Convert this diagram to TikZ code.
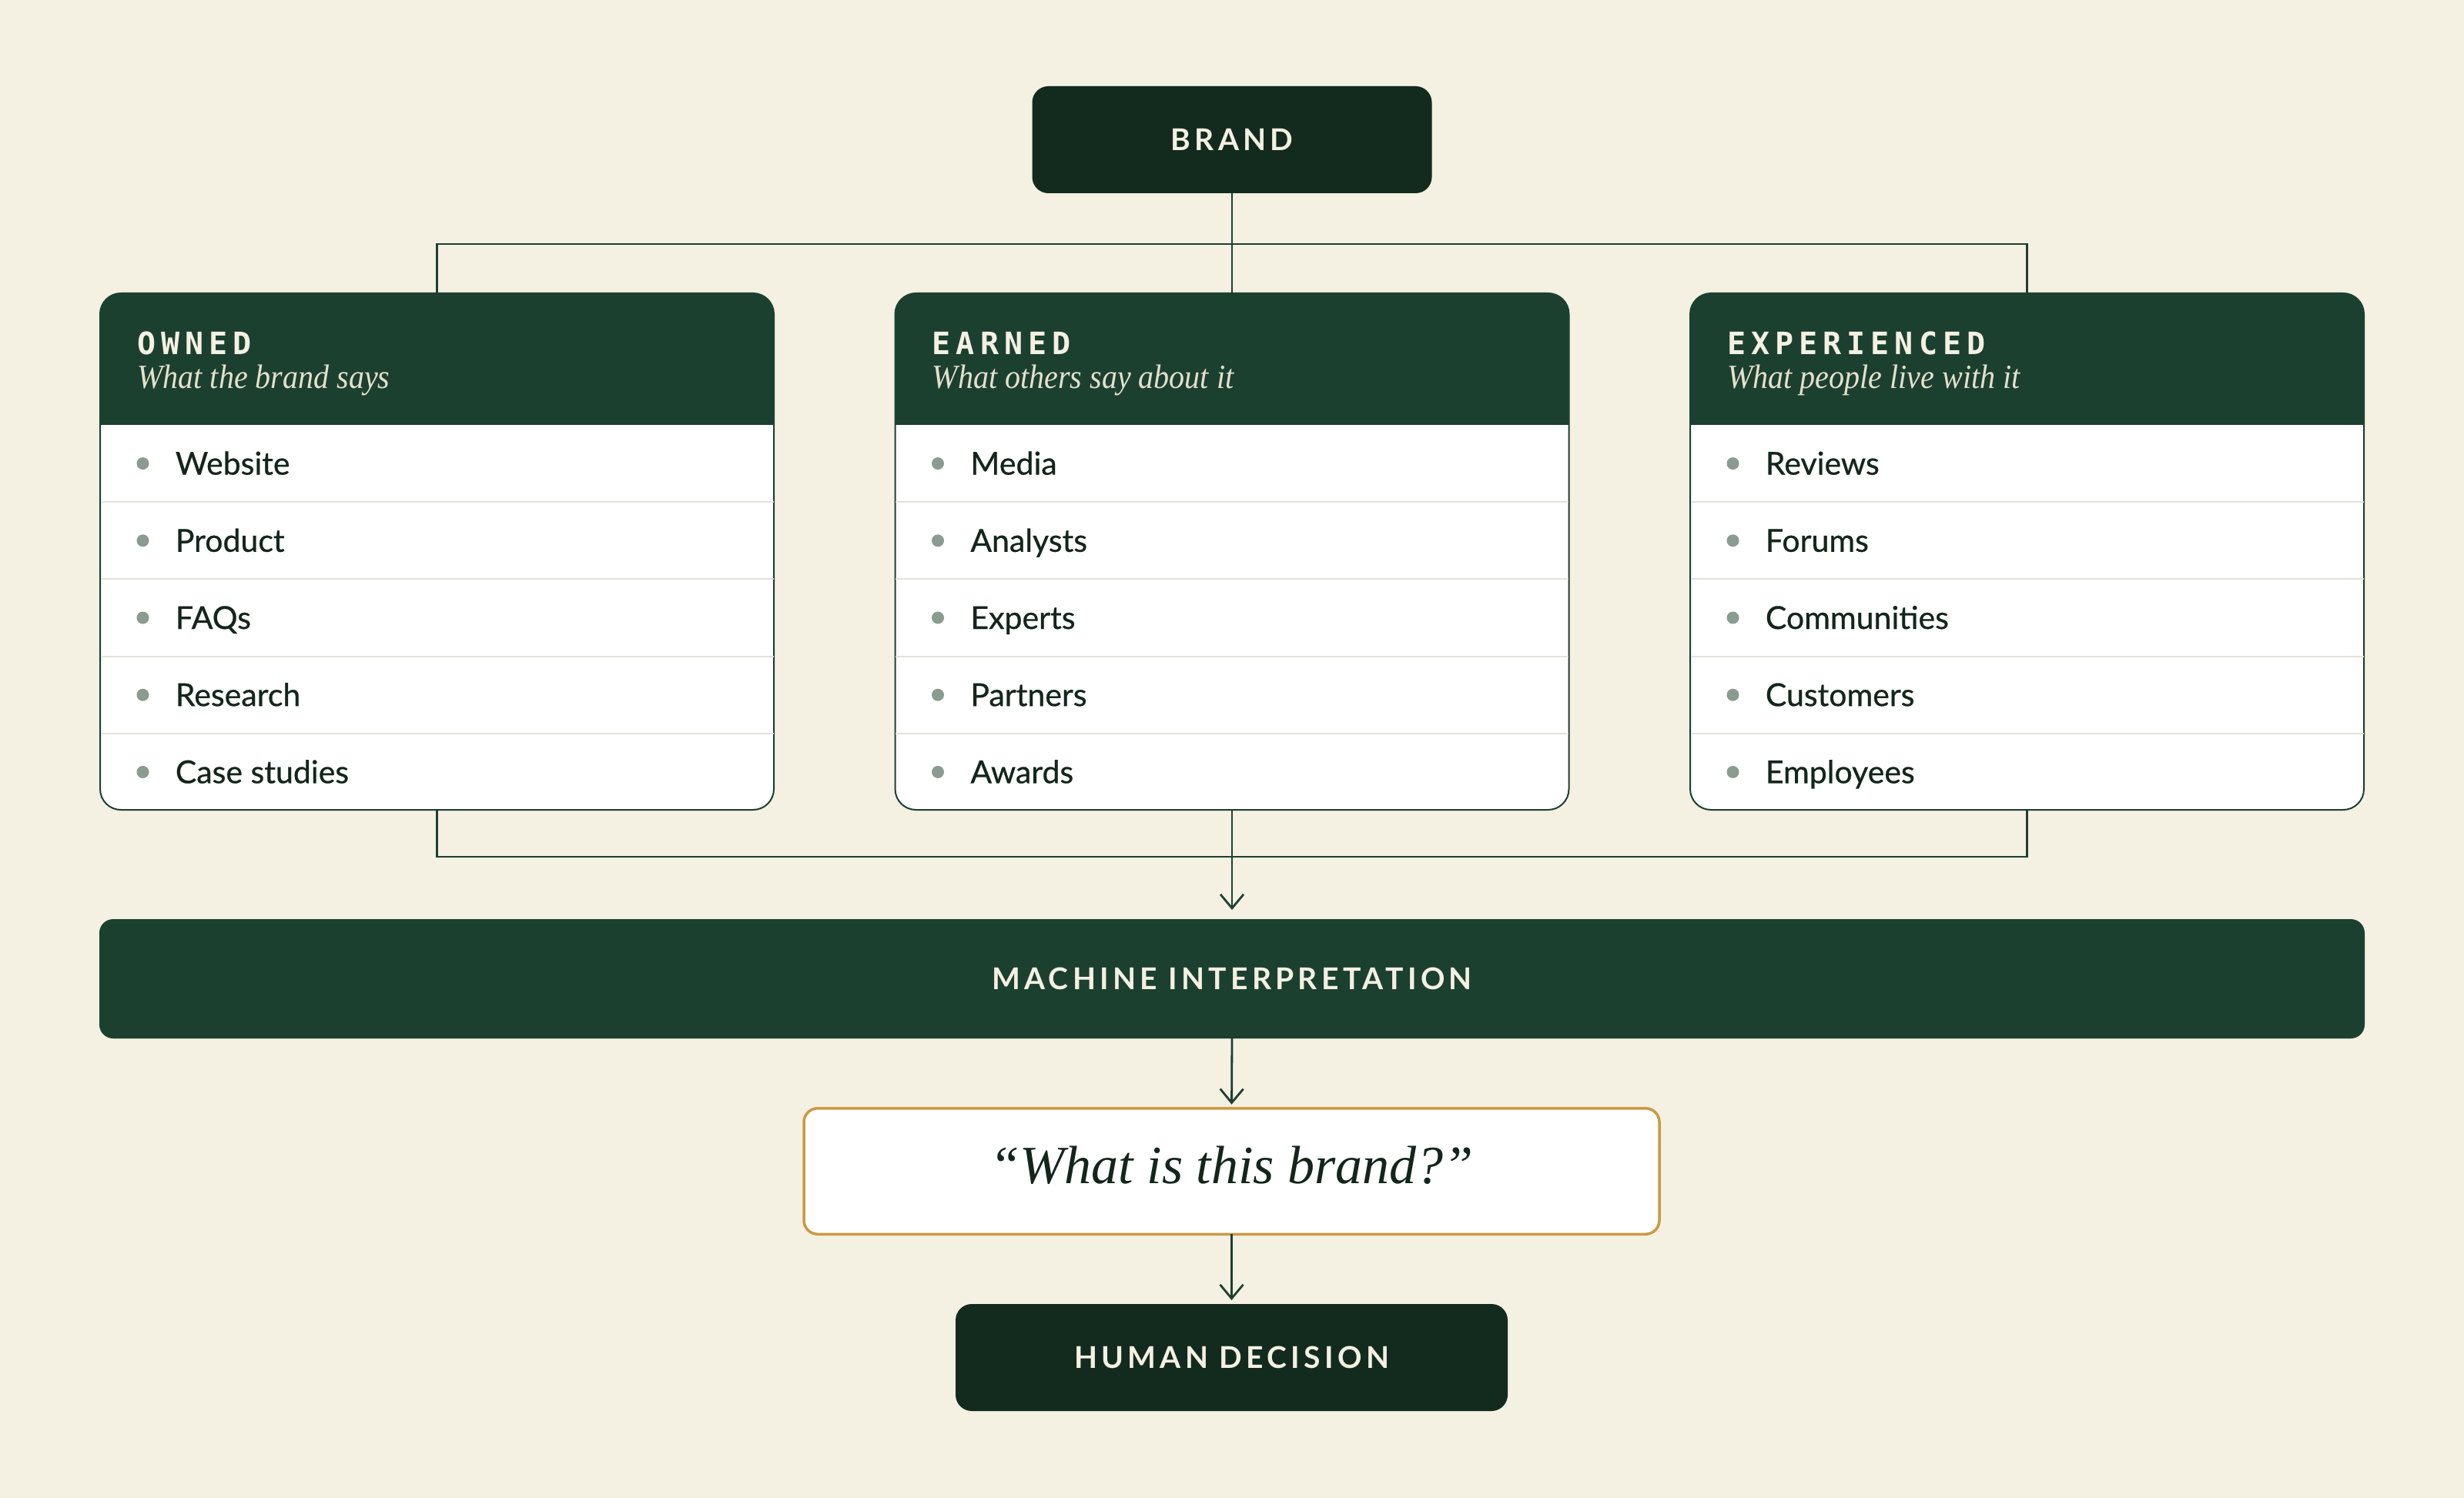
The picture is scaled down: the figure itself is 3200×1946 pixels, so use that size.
\documentclass[tikz,border=0pt]{standalone}
\usepackage{fontspec}
\setmainfont{Lato}
\newfontfamily\hdrfont{DejaVu Sans Mono}[LetterSpace=17.5]
\newfontfamily\capsfont{Lato}[LetterSpace=13.5]
\newfontfamily\itemfont{Lato}[FakeBold=0.6]
\newfontfamily\serifit{Liberation Serif}
\newfontfamily\subserif{Liberation Serif}[FakeStretch=0.91]
\usetikzlibrary{arrows.meta}
\definecolor{bgc}{HTML}{F4F0E2}
\definecolor{brandc}{HTML}{122B1E}
\definecolor{hdrc}{HTML}{1C4030}
\definecolor{creamc}{HTML}{F4F0E2}
\definecolor{subc}{HTML}{E4E0CC}
\definecolor{itemc}{HTML}{13261B}
\definecolor{bulc}{HTML}{8A9B90}
\definecolor{sepc}{HTML}{E4E2D8}
\definecolor{goldc}{HTML}{C99A45}
\begin{document}
\begin{tikzpicture}[x=0.5pt,y=-0.5pt,
  darkbox/.style={rectangle, rounded corners=10.5pt, fill=brandc, text=creamc,
    inner sep=0pt, outer sep=0pt, font=\capsfont\bfseries\fontsize{19.5}{22}\selectfont},
  midbox/.style={darkbox, fill=hdrc, rounded corners=9pt},
  quotebox/.style={rectangle, rounded corners=9pt, fill=white, draw=goldc, line width=1.75pt,
    inner sep=0pt, outer sep=0pt, text=itemc, text depth=8pt,
    font=\serifit\itshape\fontsize{35}{41}\selectfont},
  card/.style={rectangle, rounded corners=13.5pt, fill=white, draw=hdrc, line width=1pt,
    minimum width=437.5pt, minimum height=335.5pt, inner sep=0pt, outer sep=0pt},
  hdrlbl/.style={anchor=base west, inner sep=0pt, text=creamc,
    font=\hdrfont\bfseries\fontsize{20}{24}\selectfont},
  sublbl/.style={anchor=base west, inner sep=0pt, text=subc,
    font=\subserif\itshape\fontsize{22}{26}\selectfont},
  itemlbl/.style={anchor=base west, inner sep=0pt, text=itemc,
    font=\itemfont\fontsize{20.5}{24}\selectfont},
  sepline/.style={draw=sepc, line width=1pt},
  conn/.style={draw=hdrc, line width=1.4pt},
  arr/.style={conn, -{Straight Barb[length=9pt, width=15pt, line width=1.4pt]}}
]
\fill[bgc] (0,0) rectangle (3200,1946);
\useasboundingbox (0,0) rectangle (3200,1946);

% top node
\node[darkbox, minimum width=259.5pt, minimum height=69.5pt] (brand) at (1600,181.5) {BRAND};

% cards
\foreach \name/\cx/\title/\sub/\items in {
  owned/567.5/OWNED/What the brand says/{Website,Product,FAQs,Research,Case studies},
  earned/1600/EARNED/What others say about it/{Media,Analysts,Experts,Partners,Awards},
  exper/2632.5/EXPERIENCED/What people live with it/{Reviews,Forums,Communities,Customers,Employees}}{
  \node[card] (\name) at (\cx,716.5) {};
  \begin{scope}
    \clip[rounded corners=13.5pt] (\name.north west) rectangle (\name.south east);
    \fill[hdrc] (\cx-440,370) rectangle (\cx+440,552);
  \end{scope}
  \node[hdrlbl] (\name-title) at (\cx-389.5,461) {\title};
  \node[sublbl] (\name-sub) at (\cx-389.5,505) {\sub};
  \foreach \k in {1,2,3,4}{
    \draw[sepline] (\cx-437,552+100.2*\k) -- (\cx+437,552+100.2*\k);
  }
  \foreach \itm [count=\i] in \items {
    \fill[bulc] (\cx-382,501.9+100.2*\i) circle (4pt);
    \node[itemlbl] (\name-\i) at (\cx-340,516.4+100.2*\i) {\itm};
  }
}

% lower nodes
\node[midbox, minimum width=1471pt, minimum height=77.5pt] (machine) at (1600,1271.5) {MACHINE INTERPRETATION};
\node[quotebox, minimum width=555.5pt, minimum height=81.75pt] (quote) at (1599.5,1521.5) {“What is this brand?”};
\node[darkbox, minimum width=358.5pt, minimum height=69.5pt] (human) at (1599.5,1763.5) {HUMAN DECISION};

% connectors
\draw[conn] (brand.south) -- (earned.north);
\draw[conn] (owned.north) -- ++(0,-64) -| (exper.north);
\draw[conn] (owned.south) -- ++(0,61) -| (exper.south);
\draw[arr, shorten >=6pt] (earned.south) -- (machine.north);
\draw[arr, shorten >=2.5pt] (machine.south) -- (quote.north);
\draw[arr, shorten >=2.5pt] (quote.south) -- (human.north);
\end{tikzpicture}
\end{document}
